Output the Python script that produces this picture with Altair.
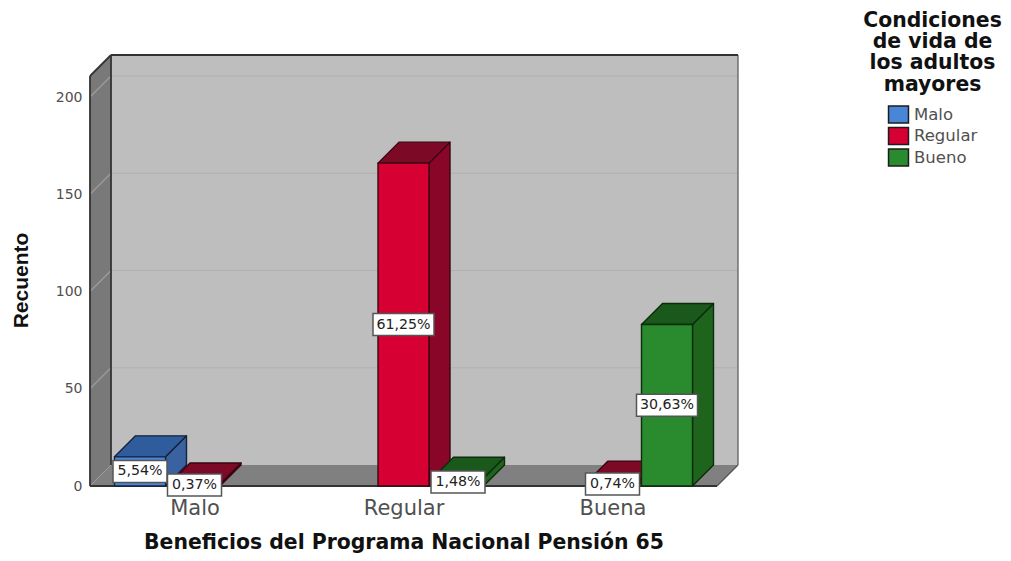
import altair as alt
import pandas as pd

# ---- values ----
categories = ["Malo", "Regular", "Buena"]
series_names = ["Malo", "Regular", "Bueno"]
malo_counts = [15, 0, 0]
regular_counts = [1, 166, 2]
bueno_counts = [0, 4, 83]
malo_labels = ["5,54%", "", ""]
regular_labels = ["0,37%", "61,25%", "0,74%"]
bueno_labels = ["", "1,48%", "30,63%"]
y_ticks = [0, 50, 100, 150, 200]
legend_title_lines = ["Condiciones", "de vida de", "los adultos", "mayores"]
x_title = "Beneficios del Programa Nacional Pensión 65"
y_title = "Recuento"

# ---- layout / style ----
PW, PH = 648, 431           # plot area in px (back wall included)
BAND = 209.0                # px per category
PX_PER_COUNT = 1.945
DX_PX, DY_PX = 21.0, 21.0   # 3D depth
FRONT_W_PX = 627.0
SLOT = 54.5 / BAND
BAR_W = 51.0 / BAND
DX = DX_PX / BAND
DY = DY_PX / PX_PER_COUNT
XMIN, XMAX = -0.5, -0.5 + PW / BAND
YTOP = PH / PX_PER_COUNT
FRONT_R = XMIN + FRONT_W_PX / BAND
FRONT_T = YTOP - DY
LEGEND_TITLE_Y = [-34, -13, 8, 30]

front_fill = ["#4a86d8", "#d60032", "#2a8a2e"]
side_fill = ["#3a62a0", "#8a0628", "#1f641d"]
top_fill = ["#2f5c9c", "#7c0a26", "#1a591b"]
edge_col = ["#14233c", "#3a0412", "#0c2c0c"]
FONT = "DejaVu Sans"

xs = alt.Scale(domain=[XMIN, XMAX], nice=False, zero=False)
ys = alt.Scale(domain=[0, YTOP], nice=False, zero=False)

# ---- faces ----
face_rows = []
def add_face(name, pts, fill, stroke):
    for x, lo, hi in pts:
        face_rows.append(dict(face=name, x=x, lo=lo, hi=hi, fill=fill, stroke=stroke))

add_face("back", [(XMIN + DX, DY, YTOP), (XMAX - 0.0, DY, YTOP)], "#bebebe", "#bebebe")
add_face("left", [(XMIN, 0, FRONT_T), (XMIN + DX, DY, YTOP)], "#797979", "#797979")
add_face("floor", [(XMIN, 0, 0), (XMIN + DX, 0, DY), (FRONT_R, 0, DY), (XMAX, DY, DY)], "#808080", "#808080")
walls = pd.DataFrame(face_rows)
face_rows.clear()

# ---- grid and frame lines ----
line_rows = []
for t in y_ticks[1:]:
    line_rows.append(dict(l=f"gl{t}", x=XMIN, y=t, c="#9c9c9c"))
    line_rows.append(dict(l=f"gl{t}", x=XMIN + DX, y=t + DY, c="#9c9c9c"))
    line_rows.append(dict(l=f"gb{t}", x=XMIN + DX, y=t + DY, c="#b0b0b0"))
    line_rows.append(dict(l=f"gb{t}", x=XMAX, y=t + DY, c="#b0b0b0"))
grid = pd.DataFrame(line_rows)

edges = {
    "top": [(XMIN + DX, YTOP), (XMAX, YTOP)],
    "corner": [(XMIN + DX, DY), (XMIN + DX, YTOP)],
    "leftedge": [(XMIN, 0), (XMIN, FRONT_T)],
    "slant": [(XMIN, FRONT_T), (XMIN + DX, YTOP)],
    "front": [(XMIN, 0), (FRONT_R, 0)],
}
edge_df = pd.DataFrame([dict(l=k, x=x, y=y) for k, v in edges.items() for x, y in v])
right_edges = {
    "wallright": [(XMAX, DY), (XMAX, YTOP)],
    "floorright": [(FRONT_R, 0), (XMAX, DY)],
}
redge_df = pd.DataFrame([dict(l=k, x=x, y=y) for k, v in right_edges.items() for x, y in v])

# ---- bars ----
all_counts = [malo_counts, regular_counts, bueno_counts]
all_labels = [malo_labels, regular_labels, bueno_labels]
fronts, boxes = [], []
for c in range(len(categories)):
    for s, name in enumerate(series_names):
        v = all_counts[s][c]
        if v == 0:
            continue
        x0 = c + (s - 1) * SLOT - BAR_W / 2
        x1 = x0 + BAR_W
        add_face(f"side{c}{s}", [(x1, 0, v), (x1 + DX, DY, v + DY)], side_fill[s], edge_col[s])
        add_face(f"top{c}{s}",
                 [(x0, v, v), (x0 + DX, v, v + DY), (x1, v, v + DY), (x1 + DX, v + DY, v + DY)],
                 top_fill[s], edge_col[s])
        fronts.append(dict(series=name, x0=x0, x1=x1, y0=0, y1=v, stroke=edge_col[s]))
        txt = all_labels[s][c]
        half_w = (30.5 if len(txt) > 5 else 27.0) / BAND
        half_h = 11.0 / PX_PER_COUNT
        mid = v / 2
        boxes.append(dict(x=(x0 + x1) / 2, y=mid, bx0=(x0 + x1) / 2 - half_w, bx1=(x0 + x1) / 2 + half_w,
                          by0=mid - half_h, by1=mid + half_h, t=txt))
faces = pd.DataFrame(face_rows)
fronts = pd.DataFrame(fronts)
boxes = pd.DataFrame(boxes)

X = lambda f, **k: alt.X(f, type="quantitative", scale=xs, axis=None, **k)
Y = lambda f, **k: alt.Y(f, type="quantitative", scale=ys, axis=None, **k)
X2 = lambda f: alt.X2(f)
Y2 = lambda f: alt.Y2(f)

# axes (carried by an invisible layer)
axes_df = pd.DataFrame({"x": [0, 1, 2], "y": [0, 0, 0]})
label_js = "[" + ",".join(f"'{c}'" for c in categories) + "][datum.value]"
axes_layer = alt.Chart(axes_df).mark_point(opacity=0).encode(
    x=alt.X("x:Q", scale=xs, axis=alt.Axis(
        values=[0, 1, 2], labelExpr=label_js, title=x_title, domain=False, ticks=False, grid=False,
        labelFont=FONT, labelFontSize=21, labelColor="#505050", labelPadding=11, labelFlush=False,
        labelOverlap=False, titleFont=FONT, titleFontSize=20.4, titleFontWeight="bold", titleColor="#111111",
        titleX=313.5, titleY=56, titleBaseline="middle")),
    y=alt.Y("y:Q", scale=ys, axis=alt.Axis(
        values=y_ticks, title=y_title, domain=False, ticks=False, grid=False,
        labelFont=FONT, labelFontSize=14, labelColor="#505050", labelPadding=8,
        titleFont="Liberation Sans", titleFontSize=21, titleFontWeight="bold", titleColor="#111111",
        titleX=-69, titleY=225, titleBaseline="middle")),
)

wall_layer = alt.Chart(walls).mark_area(strokeWidth=0).encode(
    x=X("x"), y=Y("lo"), y2=Y2("hi"), detail="face:N", fill=alt.Fill("fill:N", scale=None))
grid_layer = alt.Chart(grid).mark_line(strokeWidth=1.2).encode(
    x=X("x"), y=Y("y"), detail="l:N", stroke=alt.Stroke("c:N", scale=None))
edge_layer = alt.Chart(edge_df).mark_line(strokeWidth=1.8, color="#333333").encode(
    x=X("x"), y=Y("y"), detail="l:N")
redge_layer = alt.Chart(redge_df).mark_line(strokeWidth=1.2, color="#555555").encode(
    x=X("x"), y=Y("y"), detail="l:N")
face_layer = alt.Chart(faces).mark_area(strokeWidth=1.4, strokeJoin="round").encode(
    x=X("x"), y=Y("lo"), y2=Y2("hi"), detail="face:N",
    fill=alt.Fill("fill:N", scale=None), stroke=alt.Stroke("stroke:N", scale=None))
front_layer = alt.Chart(fronts).mark_rect(strokeWidth=1.4).encode(
    x=X("x0"), x2=X2("x1"), y=Y("y0"), y2=Y2("y1"),
    stroke=alt.Stroke("stroke:N", scale=None),
    fill=alt.Fill("series:N", scale=alt.Scale(domain=series_names, range=front_fill),
                  legend=alt.Legend(title=None, orient="none", legendX=800, legendY=51, padding=0,
                                    symbolType="M-1.33,-1.13H1.33V1.13H-1.33Z", symbolSize=225,
                                    symbolStrokeColor="#1c1c1c", symbolStrokeWidth=1.5, symbolOpacity=1,
                                    labelFont=FONT, labelFontSize=16.5, labelColor="#505050",
                                    labelOffset=7, rowPadding=-1.5)),
)
box_layer = alt.Chart(boxes).mark_rect(fill="white", stroke="#555555", strokeWidth=1.5).encode(
    x=X("bx0"), x2=X2("bx1"), y=Y("by0"), y2=Y2("by1"))
text_layer = alt.Chart(boxes).mark_text(font=FONT, fontSize=14.2, color="#222222", baseline="middle").encode(
    x=X("x"), y=Y("y"), text="t:N")

legend_title_layers = [
    alt.Chart(pd.DataFrame({"t": [line]})).mark_text(
        font=FONT, fontSize=20.4, fontWeight="bold", color="#111111", baseline="middle", align="center"
    ).encode(x=alt.value(842.5), y=alt.value(py), text="t:N")
    for line, py in zip(legend_title_lines, LEGEND_TITLE_Y)
]

chart = alt.layer(
    axes_layer, wall_layer, grid_layer, redge_layer, edge_layer, face_layer, front_layer,
    box_layer, text_layer, *legend_title_layers
).resolve_scale(fill="independent", stroke="independent"
).resolve_axis(x="independent", y="independent").properties(
    width=PW, height=PH,
    padding={"left": 82, "top": 47, "right": 265, "bottom": 67},
    autosize=alt.AutoSizeParams(type="none"),
).configure_view(stroke=None)

chart.save("out.html", embed_options={"renderer": "svg", "actions": False})
